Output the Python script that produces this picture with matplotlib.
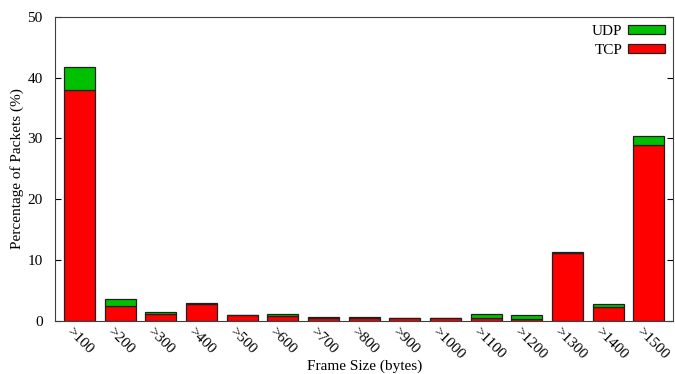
import numpy as np
import matplotlib
matplotlib.use("Agg")
from matplotlib import pyplot as plt
from matplotlib.transforms import ScaledTranslation

# data
categories = [">100", ">200", ">300", ">400", ">500", ">600", ">700", ">800",
              ">900", ">1000", ">1100", ">1200", ">1300", ">1400", ">1500"]
tcp = [38.0, 2.4, 1.2, 2.8, 0.9, 0.85, 0.55, 0.5, 0.5, 0.5, 0.55, 0.3, 11.1, 2.25, 28.9]
udp = [3.8, 1.2, 0.3, 0.2, 0.1, 0.25, 0.05, 0.15, 0.0, 0.0, 0.55, 0.6, 0.2, 0.45, 1.5]

plt.rcParams['font.family'] = ['Liberation Serif', 'DejaVu Serif']

fig = plt.figure(figsize=(6.75, 3.74), dpi=100)
ax = fig.add_axes([0.0815, 0.142, 0.916, 0.813])

x = np.arange(len(categories))
w = 0.76
ax.bar(x, tcp, w, color='#ff0000', edgecolor='#202020', linewidth=0.9, label='TCP')
ax.bar(x, udp, w, bottom=tcp, color='#00c000', edgecolor='#202020', linewidth=0.9, label='UDP')

ax.set_xlim(-0.6, len(categories) - 0.4)
ax.set_ylim(0, 50)
ax.set_yticks([0, 10, 20, 30, 40, 50])
ax.tick_params(axis='y', direction='in', right=True, labelsize=11, length=4, pad=9)
ax.tick_params(axis='x', length=0, labelsize=11, pad=3)
ax.set_xticks(x)
ax.set_xticklabels(categories, rotation=-45, ha='left', va='top', rotation_mode='anchor')
shift = ScaledTranslation(-6 / 100, 0, fig.dpi_scale_trans)
for lab in ax.get_xticklabels():
    lab.set_transform(lab.get_transform() + shift)
for s in ax.spines.values():
    s.set_color('#404040')

ax.set_ylabel('Percentage of Packets (%)', fontsize=11, labelpad=2)
ax.set_xlabel('Frame Size (bytes)', fontsize=11, labelpad=-2)

h, l = ax.get_legend_handles_labels()
ax.legend(h[::-1], l[::-1], loc='upper right', frameon=False, markerfirst=False,
          fontsize=11, handlelength=2.4, handleheight=0.55, labelspacing=0.35,
          borderaxespad=0.15, handletextpad=0.4)

fig.savefig('out.png', dpi=100)
